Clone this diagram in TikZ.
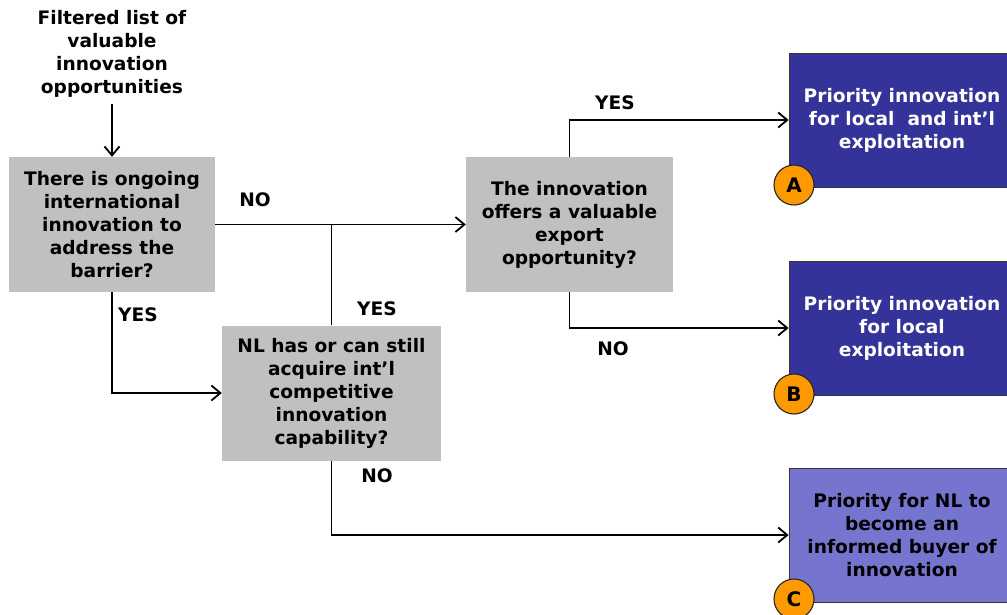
\documentclass[tikz,border=0pt]{standalone}
\usepackage{fontspec}
\setmainfont{DejaVu Sans}
\usetikzlibrary{arrows.meta}

\definecolor{qgray}{HTML}{C0C0C0}
\definecolor{darkprio}{HTML}{333399}
\definecolor{lightprio}{HTML}{7575CF}
\definecolor{badgeorange}{HTML}{FF9900}

\tikzset{
  txt/.style={font=\bfseries\fontsize{18.6}{23}\selectfont, align=center, inner sep=0pt},
  question/.style={txt, fill=qgray, minimum height=135pt},
  priority/.style={txt, draw=black!80, line width=0.8pt, minimum width=226pt, minimum height=134pt},
  badge/.style={circle, draw=black!85, line width=1.1pt, fill=badgeorange, minimum size=40pt, inner sep=0pt, font=\bfseries\fontsize{20}{23}\selectfont},
  flow/.style={line width=1.8pt, -{Straight Barb[length=9pt, width=15pt, line width=1.8pt]}},
  link/.style={line width=1.8pt}
}

\begin{document}
\begin{tikzpicture}[x=1pt, y=-1pt]

\useasboundingbox (0,0) rectangle (1007,614);

\node[txt] (src) at (112,54) {Filtered list of\\valuable\\innovation\\opportunities};

\node[question, minimum width=206pt] (ongoing) at (112,224.5) {There is ongoing\\international\\innovation to\\address the\\barrier?};

\node[question, minimum width=219pt] (capab) at (331.5,393) {NL has or can still\\acquire int'l\\competitive\\innovation\\capability?};

\node[question, minimum width=207pt] (export) at (569.5,224.5) {The innovation\\offers a valuable\\export\\opportunity?};

\node[priority, fill=darkprio, text=white] (prioA) at (902,120) {Priority innovation\\for local~ and int'l\\exploitation};

\node[priority, fill=darkprio, text=white] (prioB) at (902,328) {Priority innovation\\for local\\exploitation};

\node[priority, fill=lightprio] (prioC) at (902,535) {Priority for NL to\\become an\\informed buyer of\\innovation};

\node[badge] (badgeA) at (794,185) {A};

\node[badge] (badgeB) at (794,394) {B};

\node[badge] (badgeC) at (794,599) {C};

\draw[flow] (src.south) ++(0,6) -- (ongoing.north);

\draw[flow] (ongoing.east) -- (export.west);

\draw[link] (capab.north) -- (capab.north |- ongoing.east);

\draw[flow] (ongoing.south) |- (capab.west);

\draw[flow] (capab.south) |- (prioC.west);

\draw[flow] (export.north) |- (prioA.west);

\draw[flow] (export.south) |- (prioB.west);

\node[txt] (noA) at (255,200) {NO};

\node[txt] (yesA) at (377,309) {YES};

\node[txt] (yesB) at (138,315) {YES};

\node[txt] (noB) at (377,476) {NO};

\node[txt] (yesC) at (615,103) {YES};

\node[txt] (noC) at (613,349) {NO};

\end{tikzpicture}
\end{document}
